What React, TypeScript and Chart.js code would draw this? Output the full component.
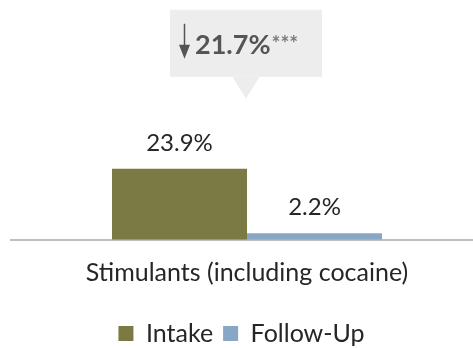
import React, { useEffect, useRef } from "react";
import { Chart, registerables } from "chart.js";

Chart.register(...registerables);

const categories = ["Stimulants (including cocaine)"];
const seriesNames = ["Intake", "Follow-Up"];
const intakeValues = [23.9];
const followUpValues = [2.2];
const seriesColors = ["#7b7a45", "#87a7c4"];
const changeLabel = "21.7%";
const significance = "***";

const FONT = "Lato, sans-serif";

const overlayPlugin = {
  id: "overlay",
  afterDatasetsDraw(chart: any) {
    const ctx = chart.ctx;
    ctx.save();
    // value labels
    chart.data.datasets.forEach((ds: any, di: number) => {
      const meta = chart.getDatasetMeta(di);
      meta.data.forEach((bar: any, i: number) => {
        const v = ds.data[i];
        ctx.fillStyle = "#262626";
        ctx.font = `24px ${FONT}`;
        ctx.textAlign = "center";
        ctx.textBaseline = "alphabetic";
        ctx.fillText(v.toFixed(1) + "%", bar.x, bar.y - 18);
      });
    });
    // callout
    const b0 = chart.getDatasetMeta(0).data[0];
    const tipX = b0.x + b0.width / 2 - 1;
    const tipY = b0.y - 70;
    const boxL = tipX - 76;
    const boxR = tipX + 76;
    const boxB = tipY - 22;
    const boxT = boxB - 67;
    ctx.fillStyle = "#ecedec";
    ctx.fillRect(boxL, boxT, boxR - boxL, boxB - boxT);
    ctx.beginPath();
    ctx.moveTo(tipX - 13.5, boxB);
    ctx.lineTo(tipX + 13.5, boxB);
    ctx.lineTo(tipX, tipY);
    ctx.closePath();
    ctx.fill();
    // arrow
    const ax = boxL + 14.5;
    ctx.strokeStyle = "#555555";
    ctx.fillStyle = "#555555";
    ctx.lineWidth = 1.5;
    ctx.beginPath();
    ctx.moveTo(ax, boxT + 14);
    ctx.lineTo(ax, boxT + 40);
    ctx.stroke();
    ctx.beginPath();
    ctx.moveTo(ax - 5.5, boxT + 35);
    ctx.lineTo(ax + 5.5, boxT + 35);
    ctx.lineTo(ax, boxT + 49);
    ctx.closePath();
    ctx.fill();
    // text
    ctx.textAlign = "left";
    ctx.textBaseline = "alphabetic";
    ctx.font = `bold 27px ${FONT}`;
    const tx = boxL + 25;
    const ty = boxT + 44;
    ctx.fillText(changeLabel, tx, ty);
    const w = ctx.measureText(changeLabel).width;
    ctx.fillStyle = "#7a7a7a";
    ctx.font = `bold 21px ${FONT}`;
    ctx.fillText(significance, tx + w + 1, ty - 3);
    ctx.restore();
  },
};

export default function App() {
  const ref = useRef<HTMLCanvasElement>(null);
  useEffect(() => {
    if (!ref.current) return;
    const chart = new Chart(ref.current, {
      type: "bar",
      data: {
        labels: categories,
        datasets: [
          {
            label: seriesNames[0],
            data: intakeValues,
            backgroundColor: seriesColors[0],
            categoryPercentage: 0.572,
            barPercentage: 1,
          },
          {
            label: seriesNames[1],
            data: followUpValues,
            backgroundColor: seriesColors[1],
            categoryPercentage: 0.572,
            barPercentage: 1,
          },
        ],
      },
      options: {
        responsive: false,
        animation: false,
        layout: { padding: { top: 8, left: 0, right: 0, bottom: -8 } },
        scales: {
          x: {
            grid: { display: false },
            border: { display: true, color: "#bfbfbf", width: 2 },
            ticks: {
              color: "#262626",
              font: { family: FONT, size: 25 },
              padding: 10,
            },
          },
          y: {
            display: true,
            min: 0,
            max: 78,
            ticks: { display: false },
            grid: { display: false, drawTicks: false },
            border: { display: false },
            afterFit: (s: any) => {
              s.width = 11;
            },
          },
        },
        plugins: {
          legend: {
            position: "bottom",
            title: {
              display: true,
              text: " ",
              font: { size: 1 },
              padding: { top: 12, bottom: 0 },
            },
            labels: {
              boxWidth: 15,
              boxHeight: 15,
              color: "#262626",
              font: { family: FONT, size: 25 },
              padding: 10,
            },
          },
          tooltip: { enabled: false },
        },
      },
      plugins: [overlayPlugin],
    });
    return () => chart.destroy();
  }, []);
  return (
    <div
      style={{
        position: "fixed",
        left: 0,
        top: 0,
        width: 473,
        height: 348,
        overflow: "hidden",
        background: "#fff",
      }}
    >
      <canvas ref={ref} width={483} height={348} style={{ display: "block" }} />
    </div>
  );
}
